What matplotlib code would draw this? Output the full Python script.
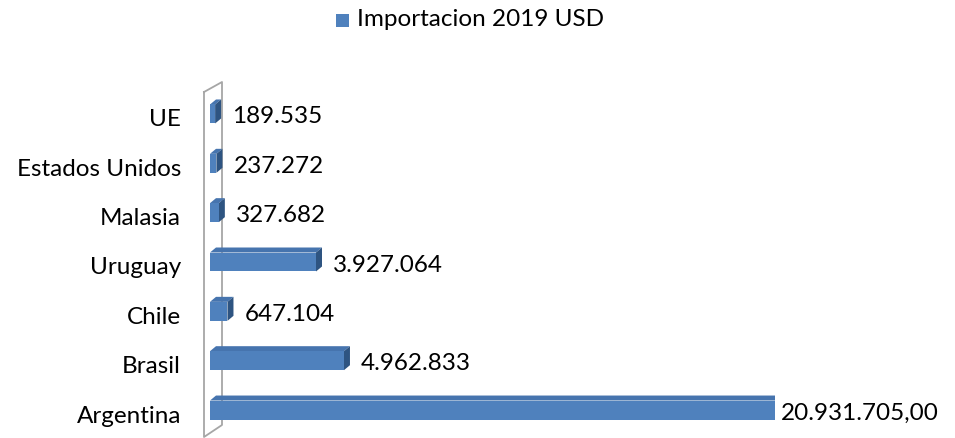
import matplotlib

matplotlib.use("Agg")
import matplotlib.pyplot as plt
from matplotlib.patches import Polygon, Rectangle
from matplotlib.lines import Line2D

countries = ["Argentina", "Brasil", "Chile", "Uruguay", "Malasia", "Estados Unidos", "UE"]
imports_usd = [20931705.00, 4962833, 647104, 3927064, 327682, 237272, 189535]
value_labels = ["20.931.705,00", "4.962.833", "647.104", "3.927.064", "327.682", "237.272", "189.535"]
series_name = "Importacion 2019 USD"

FRONT = "#4F81BD"
TOP = "#4674AE"
SIDE = "#2E5481"
WALL = "#A6A6A6"
FONT = "Lato"
FS = 17.5

W, H = 955, 438
fig = plt.figure(figsize=(W / 100, H / 100), dpi=100)

# axes placed in pixels: x=0 at front face left, category centres 410 .. 114 px from top
ax_left, ax_right = 210, 775
ax_top, ax_bottom = 89.3, 434.7
ax = fig.add_axes([ax_left / W, 1 - ax_bottom / H, (ax_right - ax_left) / W, (ax_bottom - ax_top) / H])
ax.set_xlim(0, max(imports_usd))
ax.set_ylim(-0.5, len(countries) - 0.5)
ax.axis("off")

# pixel -> data conversion for the fake 3D depth
depth_dx, depth_dy = 6, 5
px_x = max(imports_usd) / (ax_right - ax_left)
px_y = len(countries) / (ax_bottom - ax_top)
ddx, ddy = depth_dx * px_x, depth_dy * px_y

bar_h = 0.385
ypos = list(range(len(countries)))
ax.barh(ypos, imports_usd, height=bar_h, color=FRONT, edgecolor="none", zorder=3)
for y, v in zip(ypos, imports_usd):
    y0, y1 = y - bar_h / 2, y + bar_h / 2
    top = Polygon([(0, y1), (v, y1), (v + ddx, y1 + ddy), (ddx, y1 + ddy)],
                  closed=True, facecolor=TOP, edgecolor="none", zorder=2)
    side = Polygon([(v, y0), (v + ddx, y0 + ddy), (v + ddx, y1 + ddy), (v, y1)],
                   closed=True, facecolor=SIDE, edgecolor="none", zorder=2)
    ax.add_patch(top)
    ax.add_patch(side)

# value labels
for y, v, lab in zip(ypos, imports_usd, value_labels):
    off = 0 if v == max(imports_usd) else 11
    ax.annotate(lab, (v + ddx, y), xytext=(off, -3), textcoords="offset pixels",
                ha="left", va="center", fontsize=FS, family=FONT, color="black",
                annotation_clip=False)

# category labels
for y, name in zip(ypos, countries):
    ax.annotate(name, (0, y), xytext=(-29, -6), textcoords="offset pixels",
                ha="right", va="center", fontsize=FS, family=FONT, color="black",
                annotation_clip=False)

# side wall outline (pixel coords, from top-left)
def px(x, y):
    return (x / W, 1 - y / H)

wall = [px(204, 92), px(222, 82), px(222, 425), px(204, 437), px(204, 92)]
fig.add_artist(Line2D([p[0] for p in wall], [p[1] for p in wall],
                      transform=fig.transFigure, color=WALL, lw=1.3, zorder=0))

# legend
fig.add_artist(Rectangle(px(336, 27), 13 / W, 13 / H, transform=fig.transFigure,
                         facecolor=FRONT, edgecolor="none"))
fig.text(357 / W, 1 - 20 / H, series_name, ha="left", va="center",
         fontsize=FS, family=FONT, color="black")

fig.savefig("out.png", dpi=100)
